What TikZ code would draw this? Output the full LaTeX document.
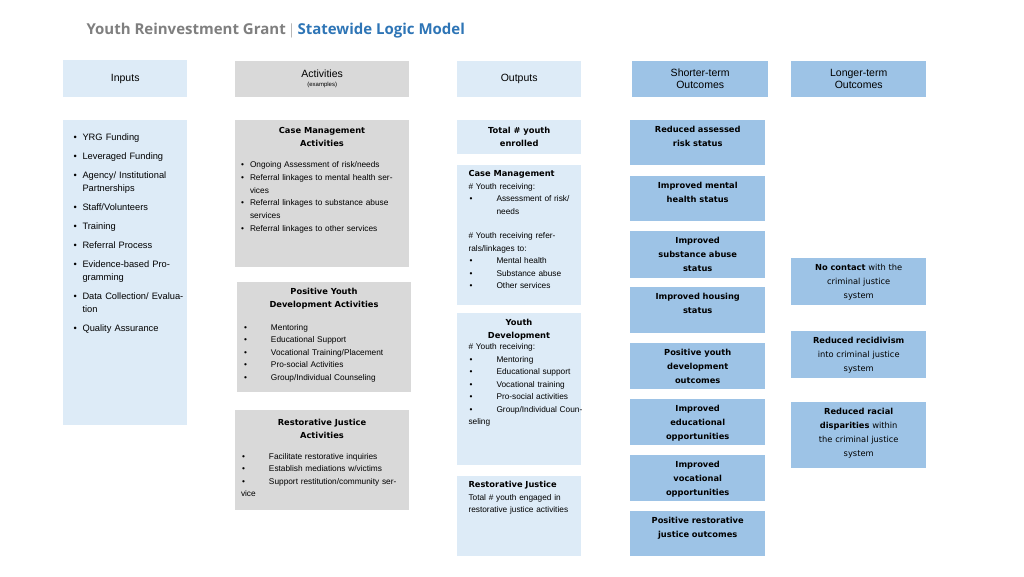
\documentclass[tikz,border=0pt]{standalone}
\usepackage{fontspec}
\setmainfont{Liberation Sans}
\newfontfamily\hd{DejaVu Sans}
\newfontfamily\ttl{Open Sans}
\usetikzlibrary{positioning}
\definecolor{pale}{HTML}{DDEBF7}
\definecolor{grey}{HTML}{D9D9D9}
\definecolor{mid}{HTML}{9DC3E6}
\definecolor{titlegray}{HTML}{7F7F7F}
\definecolor{titleblue}{HTML}{2E75B6}
% box from corner to corner, in pixels
\newcommand\panel[6]{\node[fill=#6,inner sep=0pt,minimum width=#4pt-#2pt,
  minimum height=#5pt-#3pt,anchor=north west] (#1) at (#2,#3) {};}
\newcommand\bl[1]{\par\hangindent=9pt\hangafter=1\noindent\makebox[9pt][l]{\textbullet}#1}
\newcommand\bw[1]{\par\hangindent=28pt\hangafter=1\noindent\makebox[28pt][l]{\hspace{1pt}\textbullet}#1}
\begin{document}
\begin{tikzpicture}[x=1pt,y=-1pt,
  head/.style={font=\fontsize{10.5}{12}\selectfont,align=center},
  txt/.style={anchor=north,font=\fontsize{8.3}{12.5}\selectfont,align=left},
  boxtitle/.style={font=\hd\bfseries\fontsize{8.3}{13}\selectfont,align=center},
  outc/.style={font=\hd\bfseries\fontsize{8.3}{14}\selectfont,align=center,text width=128pt}]
\useasboundingbox[fill=white] (0,0) rectangle (1024,576);
\node[anchor=west,font=\ttl\bfseries\fontsize{15}{18}\selectfont] (title) at (83,31)
  {\textcolor{titlegray}{Youth Reinvestment Grant $|$} \textcolor{titleblue}{Statewide Logic Model}};
% column heads
\panel{hin}{63}{60}{187}{97}{pale}
\panel{hact}{235}{61}{409}{97}{grey}
\panel{hout}{457}{61}{581}{97}{pale}
\panel{hshort}{632}{61}{768}{97}{mid}
\panel{hlong}{791}{61}{926}{97}{mid}
\node[head] at (hin) {Inputs};
\node[head] at (hact) {Activities\\[-3pt]{\fontsize{6}{7}\selectfont(examples)}};
\node[head] at (hout) {Outputs};
\node[head] at (hshort) {Shorter-term\\Outcomes};
\node[head] at (hlong) {Longer-term\\Outcomes};
% inputs
\panel{inp}{63}{120}{187}{425}{pale}
\node[txt,anchor=north west,text width=115pt,font=\fontsize{9.3}{13}\selectfont] (inlist) at (70,124) {%
  \bl{YRG Funding}\vspace{6pt}\bl{Leveraged Funding}\vspace{6pt}\bl{Agency/ Institutional Partnerships}\vspace{6pt}%
  \bl{Staff/Volunteers}\vspace{6pt}\bl{Training}\vspace{6pt}\bl{Referral Process}\vspace{6pt}%
  \bl{Evidence-based Programming}\vspace{6pt}\bl{Data Collection/ Evaluation}\vspace{6pt}\bl{Quality Assurance}};
% activities
\panel{acm}{235}{120}{409}{267}{grey}
\node[boxtitle] (acmt) at (322,137) {Case Management\\Activities};
\node[txt,text width=162pt,font=\fontsize{8.3}{12.8}\selectfont] (acml) at ([yshift=-1pt]acmt.south) {%
  \bl{Ongoing Assessment of risk/needs}\bl{Referral linkages to mental health services}%
  \bl{Referral linkages to substance abuse services}\bl{Referral linkages to other services}};
\panel{apyd}{237}{282}{411}{392}{grey}
\node[boxtitle] (apydt) at (324,299) {Positive Youth\\Development Activities};
\node[txt,text width=162pt] (apydl) at ([yshift=-1pt]apydt.south) {%
  \bw{Mentoring}\bw{Educational Support}\bw{Vocational Training/Placement}%
  \bw{Pro-social Activities}\bw{Group/Individual Counseling}};
\panel{arj}{235}{410}{409}{510}{grey}
\node[boxtitle] (arjt) at (322,429) {Restorative Justice\\Activities};
\node[txt,text width=162pt] (arjl) at ([yshift=-1pt]arjt.south) {%
  \bw{Facilitate restorative inquiries}\bw{Establish mediations w/victims}%
  \bw{Support restitution/community service}};
% outputs
\panel{otot}{457}{120}{581}{154}{pale}
\node[boxtitle] at (otot) {Total \# youth\\enrolled};
\panel{ocm}{457}{165}{581}{305}{pale}
\node[txt,anchor=north west,text width=115pt] (ocml) at (465,167) {%
  {\hd\bfseries Case Management}\par\# Youth receiving:\bw{Assessment of risk/ needs}\par\vspace{12pt}%
  \noindent\# Youth receiving referrals/linkages to:\bw{Mental health}\bw{Substance abuse}\bw{Other services}};
\panel{oyd}{457}{313}{581}{465}{pale}
\node[boxtitle] (oydt) at (519,330) {Youth\\Development};
\node[txt,anchor=north west,text width=115pt] (oydl) at (465,340) {%
  \# Youth receiving:\bw{Mentoring}\bw{Educational support}\bw{Vocational training}%
  \bw{Pro-social activities}\bw{Group/Individual Counseling}};
\panel{orj}{457}{476}{581}{556}{pale}
\node[txt,anchor=north west,text width=115pt] (orjl) at (465,478) {%
  {\hd\bfseries Restorative Justice}\par Total \# youth engaged in restorative justice activities};
% shorter-term outcomes
\foreach \nm/\ya/\yb/\lbl in {s1/120/165/{Reduced assessed\\risk status},
  s2/176/221/{Improved mental\\health status},
  s3/231/278/{Improved\\substance abuse\\status},
  s4/287/333/{Improved housing\\status},
  s5/343/389/{Positive youth\\development\\outcomes},
  s6/399/445/{Improved\\educational\\opportunities},
  s7/455/501/{Improved\\vocational\\opportunities},
  s8/511/556/{Positive restorative\\justice outcomes}}{
  \panel{\nm}{630}{\ya}{765}{\yb}{mid}
  \node[outc,anchor=north] at ([yshift=-3pt]\nm.north) {\lbl};
}
% longer-term outcomes
\panel{l1}{791}{258}{926}{305}{mid}
\node[outc,anchor=north] at ([yshift=-3pt]l1.north) {No contact {\mdseries with the\\criminal justice\\system}};
\panel{l2}{791}{331}{926}{378}{mid}
\node[outc,anchor=north] at ([yshift=-3pt]l2.north) {Reduced recidivism\\{\mdseries into criminal justice\\system}};
\panel{l3}{791}{402}{926}{468}{mid}
\node[outc,anchor=north] at ([yshift=-3pt]l3.north) {Reduced racial\\disparities {\mdseries within\\the criminal justice\\system}};
\end{tikzpicture}
\end{document}
